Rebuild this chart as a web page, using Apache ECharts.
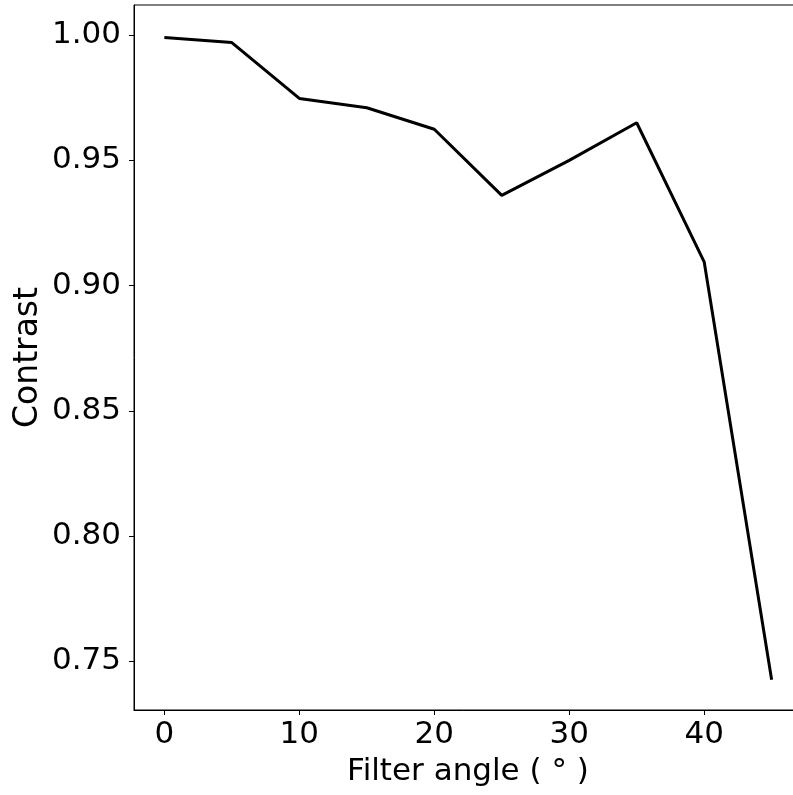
<!DOCTYPE html>
<html>
<head>
<meta charset="utf-8">
<script src="https://cdn.jsdelivr.net/npm/echarts@6/dist/echarts.min.js"></script>
<style>
html,body{margin:0;padding:0;background:#fff;}
#chart{width:793px;height:795px;}
</style>
</head>
<body>
<div id="chart"></div>
<script>
const angles = [0, 5, 10, 15, 20, 25, 30, 35, 40, 45];
const contrast = [0.999, 0.997, 0.9747, 0.971, 0.9624, 0.936, 0.950, 0.965, 0.9095, 0.7427];
const xTicks = [0, 10, 20, 30, 40];
const yTicks = [0.75, 0.80, 0.85, 0.90, 0.95, 1.00];
const xLabel = 'Filter angle ( ° )';
const yLabel = 'Contrast';

const font = 'DejaVu Sans';
const chart = echarts.init(document.getElementById('chart'), null, {renderer: 'canvas'});
chart.setOption({
  animation: false,
  backgroundColor: '#fff',
  grid: {left: 134, top: 5, width: 668, height: 705, outerBoundsMode: 'none', containLabel: false,
    show: true, borderColor: '#000', borderWidth: 1, backgroundColor: 'transparent'},
  xAxis: {
    type: 'value', min: -2.25, max: 47.25,
    name: xLabel, nameLocation: 'middle', nameGap: 46, nameMoveOverlap: false,
    nameTextStyle: {fontFamily: font, fontSize: 31, color: '#000'},
    axisLine: {show: true, onZero: false, lineStyle: {color: '#000', width: 1}},
    axisTick: {show: true, length: 5, customValues: xTicks, lineStyle: {color: '#000', width: 1}},
    axisLabel: {customValues: xTicks, margin: 9, fontFamily: font, fontSize: 31, color: '#000'},
    splitLine: {show: false}
  },
  yAxis: {
    type: 'value', min: 0.7306, max: 1.012,
    name: yLabel, nameLocation: 'middle', nameGap: 89, nameMoveOverlap: false,
    nameTextStyle: {fontFamily: font, fontSize: 33, color: '#000'},
    axisLine: {show: true, onZero: false, lineStyle: {color: '#000', width: 1}},
    axisTick: {show: true, length: 5, customValues: yTicks, lineStyle: {color: '#000', width: 1}},
    axisLabel: {customValues: yTicks, margin: 13, fontFamily: font, fontSize: 31, color: '#000',
      formatter: v => v.toFixed(2)},
    splitLine: {show: false}
  },
  series: [{
    type: 'line',
    data: angles.map((a, i) => [a, contrast[i]]),
    showSymbol: false,
    lineStyle: {color: '#000', width: 3},
    itemStyle: {color: '#000'}
  }]
});
</script>
</body>
</html>
